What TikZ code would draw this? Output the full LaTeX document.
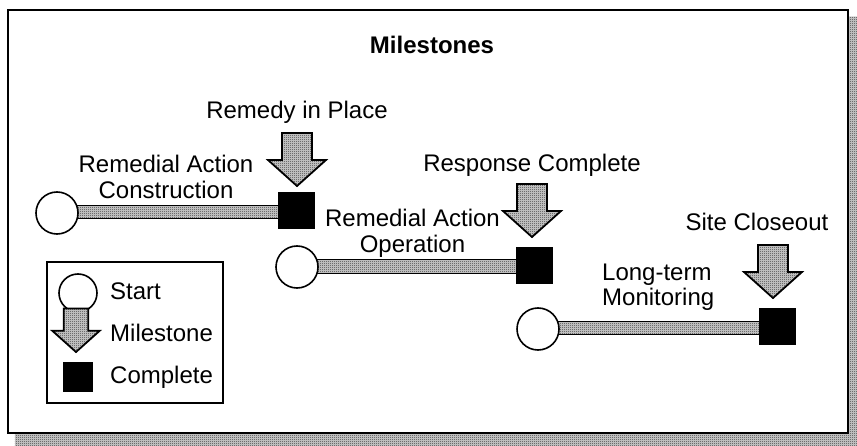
\documentclass[tikz,border=0pt]{standalone}
\usepackage{fontspec}
\setmainfont{Liberation Sans}
\usetikzlibrary{patterns.meta,backgrounds,calc}
\tikzdeclarepattern{name=chk, type=uncolored, bounding box={(0pt,0pt) and (2pt,2pt)}, tile size={(2pt,2pt)},
  code={\fill (0pt,0pt) rectangle (1pt,1pt); \fill (1pt,1pt) rectangle (2pt,2pt);}}
\tikzset{
  dots/.style={preaction={fill=black!15}, pattern=chk},
  lbl/.style={inner sep=0pt, font=\fontsize{24}{26}\selectfont, align=center},
  startc/.style={circle, draw, line width=1.6pt, fill=white, minimum size=42pt, inner sep=0pt},
  donesq/.style={rectangle, fill=black, minimum size=37pt, inner sep=0pt},
  bar/.style={dots, draw, line width=1.8pt},
  arrowstyle/.style={draw, line width=1.8pt, dots, line join=miter},
  milestone/.pic={\path[arrowstyle] (-15,-53) -- (15,-53) -- (15,-26) -- (29,-26) -- (0,0) -- (-29,-26) -- (-15,-26) -- cycle;}
}
\begin{document}
\begin{tikzpicture}[x=1pt,y=-1pt]
\useasboundingbox (0,0) rectangle (857,446);
% frame (shadow and white face are drawn on the background layer)
\node[draw, line width=2.4pt, minimum width=840pt, minimum height=423pt, inner sep=0pt] (frame) at (428,221.5) {};
\node[lbl, font=\fontsize{24}{28}\selectfont\bfseries] (title) at (432,45) {Milestones};

% row 1
\node[startc] (s1) at (57,213) {};
\node[donesq] (e1) at (296.5,211) {};
\pic (m1) at (297,186) {milestone};
\node[lbl] (t1) at (297,112) {Remedy in Place};
\node[lbl] (a1) at (166,177) {Remedial Action\\Construction};

% row 2
\node[startc] (s2) at (297,267) {};
\node[donesq] (e2) at (534,266) {};
\pic (m2) at (532,237) {milestone};
\node[lbl] (t2) at (532,165) {Response Complete};
\node[lbl] (a2) at (412.5,233) {Remedial Action\\Operation};

% row 3
\node[startc] (s3) at (538,329) {};
\node[donesq] (e3) at (777.5,327) {};
\pic (m3) at (773,298) {milestone};
\node[lbl] (t3) at (757,222) {Site Closeout};
\node[lbl, anchor=west, align=left, font=\fontsize{24}{25}\selectfont] (a3) at (602,287) {Long-term\\Monitoring};

\begin{pgfonlayer}{background}
\path[dots] ($(frame.north west)+(8,8)$) rectangle ($(frame.south east)+(9,13)$);
\fill[white] (frame.north west) rectangle (frame.south east);
\path[bar] ($(s1.center)+(0,-7.5)$) rectangle ($(e1.center)+(0,7.5)$);
\path[bar] ($(s2.center)+(0,-7.5)$) rectangle ($(e2.center)+(0,7.5)$);
\path[bar] ($(s3.center)+(0,-7.5)$) rectangle ($(e3.center)+(0,7.5)$);
\end{pgfonlayer}

% legend
\node[draw, line width=1.8pt, minimum width=176pt, minimum height=141pt, inner sep=0pt] (legend) at (135,332.5) {};
\node[startc, minimum size=38pt] (ls) at (78,293) {};
\node[lbl, anchor=west] (lst) at (110,291) {Start};
\pic[scale=0.82] (lm) at (76,352) {milestone};
\node[lbl, anchor=west] (lmt) at (110,333) {Milestone};
\node[donesq, minimum size=30pt] (lc) at (77.5,377) {};
\node[lbl, anchor=west] (lct) at (110,377) {Complete};
\end{tikzpicture}
\end{document}
